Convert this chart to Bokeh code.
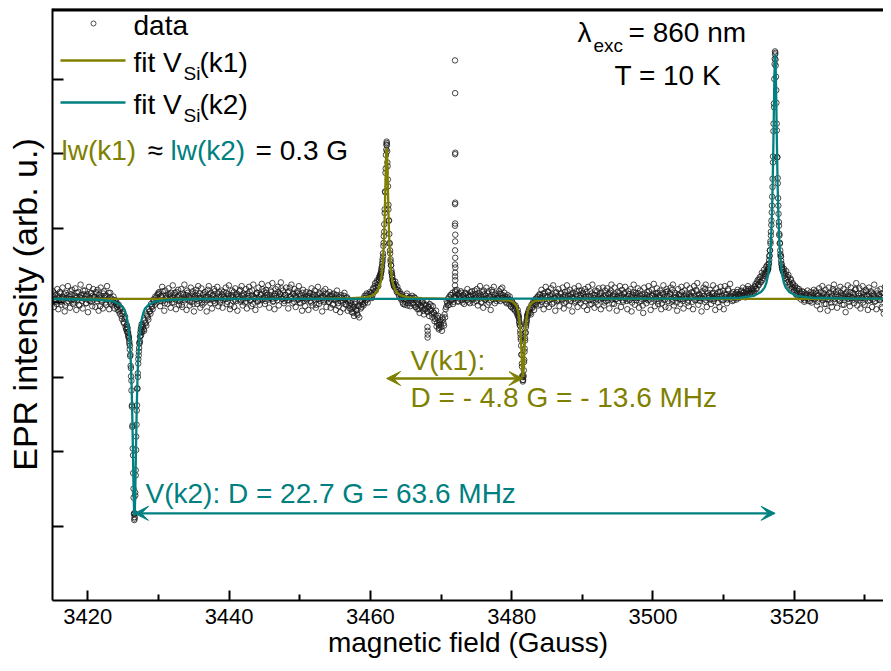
import numpy as np
from bokeh.plotting import figure
from bokeh.models import Label, Arrow, VeeHead, FixedTicker, Range1d, BoxAnnotation
from bokeh.embed import file_html
from bokeh.resources import INLINE

# ---------------- data (intensity in hundredths of an arbitrary unit) ----------------
# the sweep is read as two interleaved sample combs (A and B), half a step apart
FIELD_START_A = 3415.0
FIELD_START_B = 3415.075
FIELD_STEP = 0.15      # Gauss per sample in each comb

intensity_a = [
    8, 3, 12, 5, -2, 9, 6, 14, 1, 7, 4, 11, -4, 6, 10, 2, 8, 15, 3, 5,
    0, 9, 6, 13, 4, -3, 7, 10, 2, 16, 5, 8, -1, 11, 3, 6, 12, 1, 9, 4,
    7, 14, 2, 5, 10, -5, 8, 3, 12, 6, 0, 9, 4, 13, 7, -2, 5, 3, 0, 2,
    -2, -6, -4, -12, -9, -18, -15, -26, -22, -33, -36, -40, -47, -58, -88, -138, -205, -283, -255, -180,
    -115, -76, -55, -45, -38, -30, -36, -24, -28, -16, -20, -9, -12, -2, -6, 4, 1, 8, 3, 10,
    5, 12, 2, 7, 15, 4, -1, 9, 6, 11, 3, 8, 13, 0, 6, 10, 4, 14, 7, 2,
    9, 5, -3, 12, 7, 3, 10, 16, 4, 8, 1, 6, 11, -2, 7, 13, 5, 9, 2, 12,
    6, 0, 10, 4, 14, 8, 3, 7, 11, -1, 5, 9, 2, 15, 6, 4, 12, 8, 0, 7,
    11, 3, 8, 5, 13, 1, 9, 6, -4, 10, 7, 14, 4, 2, 12, 8, 5, 17, 3, 9,
    4, 10, 7, 1, 12, 6, 15, 3, 9, -2, 8, 5, 11, 13, 2, 7, 4, 10, 18, 6,
    8, 2, 13, 7, 4, 10, 16, 5, 1, 9, 12, 6, 3, 14, 8, 11, 19, 5, 7, 2,
    10, 6, 14, 3, 20, 8, 5, 12, 1, 9, 7, 15, 4, 11, -1, 6, 13, 2, 8, 5,
    3, 9, 6, 12, 0, 7, 11, 4, 8, -3, 10, 5, 13, 2, 6, 9, 1, 7, 12, 4,
    6, 1, 9, 4, 11, -2, 7, 3, 10, 5, -5, 8, 2, 6, 0, 9, 4, -3, 7, 1,
    -4, 2, -9, -3, -14, -6, 0, -11, -17, -5, 1, -8, 3, -2, 6, 0, 9, 4, 11, 7,
    8, 13, 10, 18, 22, 16, 27, 24, 31, 36, 38, 48, 62, 95, 148, 205, 188, 125, 80, 55,
    40, 30, 24, 20, 24, 14, 17, 9, 12, 4, 8, -2, 5, 1, 9, -4, 3, 7, -1, 6,
    4, -3, 6, -6, 1, -2, -9, 3, -5, 0, -11, -3, -8, 2, -13, -6, -2, -10, -15, -5,
    -14, -22, -11, -27, -18, -30, -24, -33, -20, -28, -16, -9, 2, -4, 7, 1, 10, 4, -2, 8,
    14, 6, 11, 2, 9, 4, 13, 0, 8, 5, 12, 3, 10, 7, -1, 9, 15, 4, 6, 11,
    2, 8, 13, 5, 10, 1, 7, 16, 4, 9, 6, 12, 0, 8, 3, 14, 7, 10, 5, 2,
    9, 4, 12, 18, 6, 10, 3, 8, 1, 7, 5, -2, 4, -6, 0, -2, -9, -4, -13, -10,
    -18, -30, -50, -82, -104, -80, -48, -30, -18, -12, -8, -14, -3, -7, 2, -2, 5, 1, 8, 3,
    10, 6, 1, 12, 4, 9, -2, 7, 14, 3, 8, 5, 11, 0, 6, 13, 2, 9, 4, 7,
    12, 3, 8, -1, 10, 6, 15, 4, 9, 2, 7, 13, 5, 0, 11, 8, 3, 16, 6, 9,
    4, 11, 7, 2, 14, 5, 9, -3, 8, 12, 3, 6, 10, 1, 15, 7, 4, 9, 13, 5,
    8, 0, 10, 6, 3, 12, 7, 16, 4, 9, -2, 11, 5, 8, 2, 13, 6, 10, 3, 7,
    13, 5, 2, 9, 11, 4, 7, 0, 14, 6, 10, 3, 8, 12, 1, 9, 5, -4, 7, 11,
    6, 10, 3, 15, 7, 1, 9, 12, 4, 8, 5, 13, 2, 10, 6, -1, 11, 7, 4, 14,
    9, 2, 8, 12, 5, 17, 3, 7, 10, 0, 6, 11, 4, 9, 14, 2, 8, 5, 12, 7,
    3, 11, 6, 9, 1, 13, 8, 4, 15, 6, 10, 2, 7, 12, 5, 9, 18, 3, 8, 6,
    10, 4, 7, 13, 2, 9, 6, 11, 0, 8, 14, 5, 9, 3, 12, 7, 10, 4, 16, 8,
    5, 12, 8, 3, 10, 7, 14, 9, 6, 11, 16, 8, 13, 10, 7, 15, 12, 18, 11, 14,
    12, 18, 15, 22, 19, 27, 24, 31, 28, 35, 30, 38, 36, 41, 40, 44, 52, 70, 95, 130,
    188, 262, 333, 285, 195, 130, 92, 65, 52, 44, 40, 36, 38, 31, 34, 28, 25, 30, 21, 24,
    17, 22, 13, 19, 10, 15, 8, 12, 6, 14, 3, 9, 11, 5, 8, 2, 10, 6, 13, 4,
    7, 12, 1, 9, 5, 14, 8, 3, 11, 6, -2, 10, 4, 13, 7, 0, 9, 15, 5, 8,
    11, 4, 8, 2, 13, 6, 10, -3, 7, 12, 5, 9, 1, 14, 6, 3, 11, 8, 18, 4,
    6, 9, 3, 12, 7, 0, 10, 5, 15, 8, 2, 11, 6, 13, 4, 9, 1, 7, 12, 5,
    10, 3, 8, -8, 6, 12, 4, 9, 1, 7, 14, 5, 8,
]

intensity_b = [
    15, -6, 10, 1, 18, -9, 4, 12, -3, 20, 7, -12, 13, 0, 22, 5, -7, 11, 17, -2,
    3, 19, -10, 8, 14, -4, 24, 6, -8, 11, 16, -1, 9, -13, 21, 2, 13, -5, 18, 8,
    -6, 12, 17, -11, 6, 20, 1, -8, 15, 9, -3, 22, 4, -9, 13, 0, -4, 8, -8, 3,
    0, -10, -3, -15, -7, -22, -12, -28, -19, -36, -40, -45, -52, -70, -105, -165, -250, -288, -225, -145,
    -95, -66, -52, -44, -40, -33, -38, -27, -31, -18, -23, -12, -15, -5, -9, 2, -3, 6, 0, 12,
    14, -5, 9, 21, 2, -11, 16, 7, -2, 19, 11, -7, 4, 23, 0, 13, -9, 8, 17, -3,
    2, 18, -6, 10, 24, 5, -10, 13, 8, -4, 20, 1, 15, -12, 9, 17, -2, 22, 6, -7,
    19, -3, 12, 0, 7, -12, 17, 22, 4, 13, -8, 10, 18, -1, 6, 21, -5, 14, 3, 16,
    -7, 14, 5, 20, -2, 11, 23, -9, 7, 16, 2, -6, 19, 10, -11, 8, 15, 1, 22, -4,
    12, 0, 18, -8, 9, 21, 3, -5, 16, 24, 6, -10, 13, 1, 20, -3, 11, 25, 4, 15,
    -2, 17, 10, 23, -7, 6, 14, 26, 2, -9, 18, 9, 21, -4, 12, 27, 5, 16, -1, 10,
    20, 3, -8, 15, 7, 24, -1, 11, 18, -6, 13, 4, 22, 0, 9, -11, 17, 6, -5, 14,
    8, -10, 13, 2, 19, -4, 10, 16, -7, 5, 21, -2, 12, 7, -12, 15, 3, 18, -6, 11,
    1, 14, -7, 9, -3, 12, 5, -10, 16, -1, 7, -13, 10, 3, -8, 13, -2, 6, -11, 4,
    -8, -1, -13, -6, -18, -2, -10, -15, -4, -20, 3, -6, 1, -4, 9, 3, 12, 0, 7, 14,
    12, 6, 19, 14, 26, 20, 30, 22, 35, 33, 42, 55, 80, 120, 180, 214, 165, 110, 70, 50,
    36, 28, 22, 28, 17, 21, 12, 15, 6, 11, 0, 7, -3, 4, 12, -1, 6, -5, 3, 9,
    -1, 7, -6, 3, -9, 0, -14, -4, -7, 1, -16, -9, -3, -12, -6, -18, -11, -4, -20, -13,
    -25, -17, -32, -21, -36, -26, -29, -38, -23, -31, -20, -6, -1, 5, -3, 10, 3, 13, 1, 6,
    8, 17, 1, 12, 7, 15, 3, 10, -2, 13, 6, 18, 1, 9, 14, 4, 11, 0, 16, 7,
    18, -4, 9, 22, 0, 14, -7, 11, 4, 20, -3, 15, 8, -10, 17, 5, 21, -1, 12, 6,
    6, 15, 2, 11, 20, 7, 13, 5, -1, 10, 3, 8, -5, 2, -8, -4, -11, -7, -16, -14,
    -26, -42, -70, -100, -98, -66, -40, -25, -15, -14, -9, -16, -6, -1, -10, 4, -2, 7, -4, 11,
    -3, 17, 8, -9, 13, 21, 2, 15, -6, 10, 19, -2, 23, 6, -11, 14, 3, 18, -5, 12,
    5, 20, -8, 14, 1, 23, 9, -4, 17, 11, -12, 7, 19, 2, 15, -6, 22, 10, -1, 16,
    13, -5, 18, 8, -10, 21, 3, 15, -2, 24, 10, -7, 16, 5, -3, 19, 12, -9, 6, 20,
    -4, 16, 2, 19, 11, -8, 13, 24, -1, 7, 20, 4, -11, 14, 9, 22, -6, 17, 1, 12,
    21, 7, -9, 15, 3, 18, -12, 10, 24, -3, 13, 6, 19, -7, 16, 2, 11, -14, 20, 5,
    -1, 14, 22, 4, -10, 17, 9, 25, -5, 12, 19, -2, 8, 16, -9, 13, 23, 3, -6, 18,
    15, -7, 11, 20, 1, 24, -4, 13, 7, -11, 18, 10, -2, 21, 5, -8, 16, 9, 23, 0,
    -5, 19, 8, 14, -9, 22, 3, 17, 26, -3, 11, 6, -12, 15, 20, 1, 24, -6, 13, 9,
    17, -2, 12, 23, 5, -10, 19, 8, 14, -6, 21, 3, 16, -9, 22, 11, -1, 18, 7, 25,
    9, 2, 14, 6, 12, 4, 17, 11, 8, 15, 10, 20, 14, 9, 18, 13, 22, 16, 12, 19,
    16, 12, 21, 25, 18, 30, 23, 34, 27, 40, 33, 44, 38, 48, 50, 45, 62, 82, 110, 155,
    240, 320, 318, 240, 160, 108, 80, 62, 48, 41, 45, 33, 42, 27, 37, 23, 32, 19, 26, 15,
    20, 11, 16, 7, 18, 12, 4, 15, 9, 1, 12, 6, 16, 2, 10, 14, 0, 8, 17, 5,
    15, -4, 10, 19, -9, 6, 22, 13, -2, 17, 8, -11, 20, 4, 12, -6, 18, 24, 1, 14,
    -7, 16, 3, 21, 9, -3, 18, 11, -13, 14, 23, 5, -5, 20, 7, 13, -1, 17, 26, -4,
    12, 19, -8, 6, 22, 14, -3, 17, 9, -10, 20, 3, 15, -6, 11, 24, 2, -9, 16, 8,
    4, 18, -6, 13, -15, 21, 7, -2, 16, 10, 0, 19,
]

# extra samples
k2_low_field = [3425.52, 3425.58, 3425.64, 3425.70, 3425.76, 3425.82, 3425.88, 3425.94, 3426.00,
                3426.06, 3426.12, 3426.18, 3426.24, 3426.30, 3426.36, 3426.42, 3426.48, 3426.54,
                3426.58, 3426.62, 3426.66, 3426.72, 3426.78, 3426.84, 3426.90, 3426.96, 3427.02,
                3427.08, 3427.14, 3427.20, 3427.26, 3427.32, 3427.38, 3427.44, 3427.50, 3427.56, 3427.62]
k2_low_int = [-30, -33, -35, -40, -44, -48, -55, -63, -72, -85, -99, -118, -140, -167, -196, -229,
              -262, -284, -292, -290, -283, -259, -232, -198, -164, -138, -116, -100, -82, -71, -61,
              -54, -46, -40, -36, -33, -29]

k1_high_field = [3461.24, 3461.30, 3461.36, 3461.42, 3461.48, 3461.54, 3461.60, 3461.66, 3461.72,
                 3461.78, 3461.84, 3461.90, 3461.96, 3462.02, 3462.08, 3462.14, 3462.20, 3462.26,
                 3462.30, 3462.34, 3462.38, 3462.44, 3462.50, 3462.56, 3462.62, 3462.68, 3462.74,
                 3462.80, 3462.86, 3462.92, 3462.98, 3463.04, 3463.10, 3463.16, 3463.22, 3463.28, 3463.34]
k1_high_int = [30, 33, 34, 38, 40, 44, 47, 52, 58, 66, 76, 89, 105, 125, 149, 174, 198, 212, 216,
               211, 203, 183, 156, 131, 110, 92, 79, 66, 58, 50, 43, 39, 34, 30, 28, 25, 22]

spike_field = [3471.98, 3472.00, 3472.02, 3471.99, 3472.01, 3471.98, 3472.00, 3471.97, 3472.02,
               3472.00, 3471.99, 3472.01, 3471.98, 3472.02, 3472.00, 3471.99, 3472.01, 3471.98, 3472.02]
spike_int = [325, 281, 201, 199, 134, 132, 106, 103, 91, 82, 70, 60, 51, 47, 40, 35, 30, 23, 16]

dip_field = [3468.08, 3468.10, 3468.12, 3468.10, 3469.68, 3469.72]
dip_int = [-33, -38, -43, -47, -30, -34]

k1_low_field = [3480.92, 3480.98, 3481.04, 3481.10, 3481.16, 3481.22, 3481.28, 3481.34, 3481.40,
                3481.46, 3481.52, 3481.58, 3481.62, 3481.66, 3481.72, 3481.78, 3481.84, 3481.90,
                3481.96, 3482.02, 3482.08, 3482.14, 3482.20, 3482.26]
k1_low_int = [-18, -20, -22, -27, -31, -38, -47, -58, -70, -86, -98, -106,
              -104, -100, -91, -77, -62, -51, -41, -33, -27, -23, -19, -16]

k2_high_field = [3516.22, 3516.28, 3516.34, 3516.40, 3516.46, 3516.52, 3516.58, 3516.64, 3516.70,
                 3516.76, 3516.82, 3516.88, 3516.94, 3517.00, 3517.06, 3517.12, 3517.18, 3517.24,
                 3517.28, 3517.32, 3517.36, 3517.42, 3517.48, 3517.54, 3517.60, 3517.66, 3517.72,
                 3517.78, 3517.84, 3517.90, 3517.96, 3518.02, 3518.08, 3518.14, 3518.20, 3518.26, 3518.32]
k2_high_int = [42, 45, 48, 52, 57, 63, 70, 79, 90, 104, 121, 142, 166, 196, 230, 267, 300, 327, 337,
               335, 326, 303, 268, 231, 195, 167, 140, 119, 103, 90, 79, 70, 62, 56, 51, 47, 44]

# fitted curves
fit_k1_field = [3415.0, 3452.3, 3457.3, 3459.3, 3460.3, 3460.8, 3461.05, 3461.3, 3461.4, 3461.5,
                3461.6, 3461.7, 3461.8, 3461.9, 3461.95, 3462.0, 3462.05, 3462.1, 3462.15, 3462.2,
                3462.25, 3462.3, 3462.35, 3462.4, 3462.45, 3462.5, 3462.55, 3462.6, 3462.65, 3462.7,
                3462.8, 3462.9, 3463.0, 3463.1, 3463.2, 3463.3, 3463.55, 3463.8, 3464.3, 3465.3,
                3467.3, 3471.9, 3476.6, 3478.6, 3479.6, 3480.1, 3480.35, 3480.6, 3480.7, 3480.8,
                3480.9, 3481.0, 3481.1, 3481.2, 3481.25, 3481.3, 3481.35, 3481.4, 3481.45, 3481.5,
                3481.55, 3481.6, 3481.65, 3481.7, 3481.75, 3481.8, 3481.85, 3481.9, 3481.95, 3482.0,
                3482.1, 3482.2, 3482.3, 3482.4, 3482.5, 3482.6, 3482.85, 3483.1, 3483.6, 3484.6,
                3486.6, 3491.6, 3533.8]
fit_k1_int = [5, 5, 6, 7, 9.5, 13, 16, 22, 25, 30, 37, 46, 59, 78, 91, 107, 125, 146, 167, 188,
              203, 208, 203, 188, 167, 146, 125, 107, 91, 78, 59, 46, 37, 30, 25, 22, 16, 13, 9.5, 7,
              6, 5, 4.6, 4, 2.7, 1, -0.7, -3.7, -5.5, -8, -11, -16, -23, -33, -40, -48, -57, -68, -79,
              -90, -97, -100, -97, -90, -79, -68, -57, -48, -40, -33, -23, -16, -11, -8, -5.5, -3.7,
              -0.7, 1, 2.7, 4, 4.6, 4.9, 5]

fit_k2_field = [3415.0, 3421.6, 3423.6, 3424.6, 3425.1, 3425.35, 3425.6, 3425.7, 3425.8, 3425.9,
                3426.0, 3426.1, 3426.2, 3426.25, 3426.3, 3426.35, 3426.4, 3426.45, 3426.5, 3426.55,
                3426.6, 3426.65, 3426.7, 3426.75, 3426.8, 3426.85, 3426.9, 3426.95, 3427.0, 3427.1,
                3427.2, 3427.3, 3427.4, 3427.5, 3427.6, 3427.85, 3428.1, 3428.6, 3429.6, 3431.6,
                3436.6, 3472.0, 3507.3, 3512.3, 3514.3, 3515.3, 3515.8, 3516.05, 3516.3, 3516.4,
                3516.5, 3516.6, 3516.7, 3516.8, 3516.9, 3516.95, 3517.0, 3517.05, 3517.1, 3517.15,
                3517.2, 3517.25, 3517.3, 3517.35, 3517.4, 3517.45, 3517.5, 3517.55, 3517.6, 3517.65,
                3517.7, 3517.8, 3517.9, 3518.0, 3518.1, 3518.2, 3518.3, 3518.55, 3518.8, 3519.3,
                3520.3, 3522.3, 3527.3, 3533.8]
fit_k2_int = [4.7, 3.7, 1.5, -3, -8, -14, -24, -30, -37, -48, -63, -83, -113, -132, -154, -180,
              -208, -236, -262, -280, -286, -280, -262, -236, -208, -180, -154, -132, -113, -83, -63,
              -48, -37, -30, -24, -14, -8, -3, 1.5, 3.7, 4.7, 5, 5.4, 6.4, 9, 14, 20, 26, 37, 44, 53,
              65, 81, 105, 138, 159, 185, 213, 245, 277, 305, 326, 333, 326, 305, 277, 245, 213, 185,
              159, 138, 105, 81, 65, 53, 44, 37, 26, 20, 14, 9, 6.4, 5.4, 5.2]

k1_centres = [3462.3, 3481.6]   # V(k1) lines
k2_centres = [3426.6, 3517.3]   # V(k2) lines

x_major_ticks = [3420, 3440, 3460, 3480, 3500, 3520]
x_minor_ticks = [3430, 3450, 3470, 3490, 3510, 3530]
y_major_ticks = [-300, -200, -100, 0, 100, 200, 300]

# ---------------- styling ----------------
FONT = "Liberation Sans"
OLIVE = "#808000"
TEAL = "#008080"
FRAME_TOP_PX = 8


def fx(px):
    # horizontal layout position (pixels) -> field
    return 3415.0 + (px - 52) / 7.064


def fy(py):
    # vertical layout position (pixels) -> intensity
    return (302 - py) / 0.745


X_START, X_END = 3415.0, fx(883)
Y_START, Y_END = fy(600), fy(FRAME_TOP_PX)

p = figure(width=883, height=663, output_backend="svg", toolbar_location=None,
           x_range=Range1d(X_START, X_END), y_range=Range1d(Y_START, Y_END),
           min_border_left=52, min_border_right=0, min_border_top=FRAME_TOP_PX,
           min_border_bottom=63)
p.outline_line_color = None
p.grid.visible = False
p.background_fill_color = "white"
p.border_fill_color = "white"

xa = p.xaxis[0]
xa.ticker = FixedTicker(ticks=x_major_ticks, minor_ticks=x_minor_ticks)
xa.major_tick_in, xa.major_tick_out = 10, 0
xa.minor_tick_in, xa.minor_tick_out = 6, 0
xa.axis_line_width = 2
xa.major_tick_line_width = 2
xa.minor_tick_line_width = 2
xa.major_label_text_font = FONT
xa.major_label_text_font_size = "22px"
xa.major_label_text_color = "black"
xa.major_label_standoff = 8
xa.axis_label = "magnetic field (Gauss)"
xa.axis_label_text_font = FONT
xa.axis_label_text_font_size = "28px"
xa.axis_label_text_font_style = "normal"
xa.axis_label_text_color = "black"
xa.axis_label_standoff = 0

ya = p.yaxis[0]
ya.ticker = FixedTicker(ticks=y_major_ticks, minor_ticks=[])
ya.major_tick_in, ya.major_tick_out = 11, 0
ya.minor_tick_in, ya.minor_tick_out = 0, 0
ya.axis_line_width = 2
ya.major_tick_line_width = 2
ya.major_label_overrides = {t: "" for t in y_major_ticks}
ya.major_label_standoff = 0
ya.axis_label = "EPR intensity (arb. u.)"
ya.axis_label_text_font = FONT
ya.axis_label_text_font_size = "34px"
ya.axis_label_text_font_style = "normal"
ya.axis_label_text_color = "black"
ya.axis_label_standoff = 9

# top frame line: a thin solid strip along the top of the frame
p.add_layout(BoxAnnotation(left=X_START, right=X_END, top=Y_END, bottom=fy(FRAME_TOP_PX + 2.5),
                           fill_color="black", fill_alpha=1.0, line_color="black", line_alpha=1.0,
                           line_width=1))

# ---------------- data ----------------
field_a = FIELD_START_A + FIELD_STEP * np.arange(len(intensity_a))
field_b = FIELD_START_B + FIELD_STEP * np.arange(len(intensity_b))
data_field = np.concatenate([field_a, field_b, k2_low_field, k1_high_field, spike_field, dip_field,
                             k1_low_field, k2_high_field])
data_int = np.concatenate([intensity_a, intensity_b, k2_low_int, k1_high_int, spike_int, dip_int,
                           k1_low_int, k2_high_int])
p.scatter(data_field, data_int, marker="circle", size=5.5, fill_color=None,
          line_color="#1a1a1a", line_width=0.8)

p.line(fit_k1_field, fit_k1_int, line_color=OLIVE, line_width=2.3)
p.line(fit_k2_field, fit_k2_int, line_color=TEAL, line_width=2.3)

# ---------------- legend ----------------
p.scatter([fx(93)], [fy(23)], marker="circle", size=5, fill_color=None,
          line_color="#222222", line_width=0.8)
p.segment(x0=[fx(60)], y0=[fy(60)], x1=[fx(125)], y1=[fy(60)], line_color=OLIVE, line_width=2.3)
p.segment(x0=[fx(60)], y0=[fy(102)], x1=[fx(125)], y1=[fy(102)], line_color=TEAL, line_width=2.3)


def lab(px, py, text, color="black", size="28px", align="left"):
    p.add_layout(Label(x=fx(px), y=fy(py), text=text, text_font=FONT, text_font_size=size,
                       text_color=color, text_baseline="middle", text_align=align))


lab(133, 25, "data")
lab(133, 62, "fit V")
lab(183, 73, "Si", size="19px")
lab(199, 62, "(k1)")
lab(133, 104, "fit V")
lab(183, 115, "Si", size="19px")
lab(199, 104, "(k2)")

lab(61, 150, "lw(k1)", OLIVE)
lab(147, 150, "\u2248")
lab(170, 150, "lw(k2)", TEAL)
lab(255, 150, "= 0.3 G")

lab(577, 32, "\u03bb")
lab(593, 45, "exc", size="19px")
lab(628, 32, "= 860 nm")
lab(614, 75, "T = 10 K")

lab(410, 360, "V(k1):", OLIVE)
lab(410, 397, "D = - 4.8 G = - 13.6 MHz", OLIVE)
lab(145, 493, "V(k2): D = 22.7 G = 63.6 MHz", TEAL)

# ---------------- splitting arrows ----------------
k1_arrow_y = min(fit_k1_int) - 2
k2_arrow_y = min(fit_k2_int) + 3
p.add_layout(Arrow(start=VeeHead(size=14, fill_color=OLIVE, line_color=OLIVE, line_width=1),
                   end=VeeHead(size=14, fill_color=OLIVE, line_color=OLIVE, line_width=1),
                   x_start=k1_centres[0], y_start=k1_arrow_y, x_end=k1_centres[1], y_end=k1_arrow_y,
                   line_color=OLIVE, line_width=2.3))
p.add_layout(Arrow(start=VeeHead(size=14, fill_color=TEAL, line_color=TEAL, line_width=1),
                   end=VeeHead(size=14, fill_color=TEAL, line_color=TEAL, line_width=1),
                   x_start=k2_centres[0], y_start=k2_arrow_y, x_end=k2_centres[1], y_end=k2_arrow_y,
                   line_color=TEAL, line_width=2.3))

open("out.html", "w").write(file_html(p, INLINE))
